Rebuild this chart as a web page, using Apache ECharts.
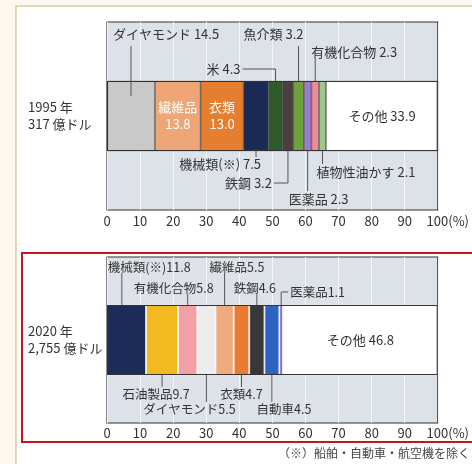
<!DOCTYPE html>
<html>
<head>
<meta charset="utf-8">
<script src="https://cdn.jsdelivr.net/npm/echarts@6/dist/echarts.min.js"></script>
<style>
html, body { margin: 0; padding: 0; background: #fff; }
#main { width: 472px; height: 464px; }
</style>
</head>
<body>
<div id="main"></div>
<script>
// data
const years = ['1995 年', '2020 年'];
const totals = ['317 億ドル', '2,755 億ドル'];

const items1995 = ['ダイヤモンド', '繊維品', '衣類', '機械類(※)', '米', '鉄鋼', '魚介類', '医薬品', '有機化合物', '植物性油かす', 'その他'];
const values1995 = [14.5, 13.8, 13.0, 7.5, 4.3, 3.2, 3.2, 2.3, 2.3, 2.1, 33.9];

const items2020 = ['機械類(※)', '石油製品', '有機化合物', 'ダイヤモンド', '繊維品', '衣類', '鉄鋼', '自動車', '医薬品', 'その他'];
const values2020 = [11.8, 9.7, 5.8, 5.5, 5.5, 4.7, 4.6, 4.5, 1.1, 46.8];

const footnote = '（※）船舶・自動車・航空機を除く';

// styles
const FONT = '"Noto Sans CJK JP", "Noto Sans", sans-serif';
const colors1995 = ['#c9c9c9', '#eea676', '#e67e30', '#1b2a55', '#2f5a2a', '#4a403e', '#6ea03c', '#a07acb', '#ee8c96', '#98c98a', '#ffffff'];
const colors2020 = ['#1c2b57', '#f4b820', '#f2a0a6', '#ececec', '#f0aa80', '#e97b32', '#383838', '#2e62c0', '#8a6cb8', '#ffffff'];
const BAR_H = 70;

// leader-line label layout (pixel offsets relative to the bar edge)
const notes1995 = [
    { i: 0, side: 'top', len: 35, inset: 15, dx: -18, dy: -12, align: 'left' },
    { i: 6, side: 'top', len: 35, dx: 5, dy: -12, align: 'right' },
    { i: 8, side: 'top', len: 22, dx: -4, dy: -7, align: 'left' },
    { i: 4, side: 'top', len: 12, elbow: -33, dx: -2, dy: 0, align: 'right' },
    { i: 3, side: 'bottom', len: 6, dx: 5, dy: 7, align: 'right' },
    { i: 9, side: 'bottom', len: 13, dx: -6, dy: 8, align: 'left' },
    { i: 5, side: 'bottom', len: 32, elbow: -14, dx: -2, dy: 0, align: 'right' },
    { i: 7, side: 'bottom', len: 40, dx: -19, dy: 8, align: 'left' }
];
const notes2020 = [
    { i: 0, side: 'top', len: 32, frac: 0.38, dx: -14, dy: -6, align: 'left' },
    { i: 4, side: 'top', len: 32, dx: -15, dy: -6, align: 'left' },
    { i: 2, side: 'top', len: 11, dx: -14, dy: -6, align: 'center' },
    { i: 6, side: 'top', len: 11, dx: -2, dy: -6, align: 'center' },
    { i: 8, side: 'top', len: 13, elbow: 7, dx: 2, dy: 0, align: 'left' },
    { i: 1, side: 'bottom', len: 12, dx: -6, dy: 7, align: 'center' },
    { i: 3, side: 'bottom', len: 27, dx: -17, dy: 7, align: 'center' },
    { i: 5, side: 'bottom', len: 12, dx: 0, dy: 7, align: 'center' },
    { i: 7, side: 'bottom', len: 27, dx: 12, dy: 7, align: 'center' }
];

const panels = [
    { items: items1995, values: values1995, colors: colors1995, notes: notes1995, sep: ' ', fs: 13,
      border: '#3c3c3c', borderW: 0.6, inside: [1, 2],
      grid: { left: 107, top: 22, width: 333, height: 188 }, tickMargin: 5 },
    { items: items2020, values: values2020, colors: colors2020, notes: notes2020, sep: '', fs: 12.5,
      border: '#ffffff', borderW: 0.8, inside: [],
      grid: { left: 107, top: 257, width: 333, height: 166 }, tickMargin: 4 }
];

function starts(vals) {
    let s = 0;
    return vals.map(v => { const a = s; s += v; return a; });
}

const grids = [], xAxes = [], yAxes = [], series = [];

panels.forEach((p, k) => {
    grids.push(Object.assign({
        show: true, backgroundColor: '#dde2e8', borderColor: '#333', borderWidth: 1.2
    }, p.grid));
    xAxes.push({
        type: 'value', gridIndex: k, min: 0, max: 100, interval: 10,
        axisLine: { show: false }, axisTick: { show: false },
        splitLine: { show: true, lineStyle: { color: '#f3f5f8', width: 1 } },
        axisLabel: {
            margin: p.tickMargin, color: '#333', fontSize: 13, fontFamily: FONT,
            formatter: v => v === 100 ? '{p|100(%)}' : String(v),
            rich: { p: { padding: [0, 0, 0, 20], fontSize: 13, fontFamily: FONT, color: '#333' } }
        }
    });
    yAxes.push({
        type: 'category', gridIndex: k, data: [years[k] + '\n' + totals[k]],
        axisLine: { show: false }, axisTick: { show: false },
        axisLabel: { align: 'left', margin: 79, color: '#333', fontSize: 13, lineHeight: 17, fontFamily: FONT }
    });

    const last = p.items.length - 1;
    p.items.forEach((name, i) => {
        let label = { show: false };
        if (p.inside.includes(i)) {
            label = { show: true, position: 'inside', color: '#fff', fontSize: 13, lineHeight: 17,
                fontFamily: FONT, formatter: name + '\n' + p.values[i].toFixed(1) };
        } else if (i === last) {
            label = { show: true, position: 'inside', color: '#333', fontSize: 13,
                fontFamily: FONT, formatter: name + ' ' + p.values[i].toFixed(1) };
        }
        series.push({
            type: 'bar', name: name, stack: 's' + k, xAxisIndex: k, yAxisIndex: k,
            barWidth: BAR_H, barGap: '-100%', data: [p.values[i]], silent: true,
            itemStyle: { color: p.colors[i], borderColor: p.border, borderWidth: p.borderW },
            label: label
        });
    });
    // outline of the whole bar
    series.push({
        type: 'bar', xAxisIndex: k, yAxisIndex: k, barWidth: BAR_H, barGap: '-100%',
        data: [100], silent: true, z: 3,
        itemStyle: { color: 'rgba(0,0,0,0)', borderColor: '#333', borderWidth: 1.1 }
    });

    // leader-line labels
    const st = starts(p.values);
    series.push({
        type: 'custom', xAxisIndex: k, yAxisIndex: k, z: 5, silent: true,
        data: p.notes.map((n, j) => [st[n.i] + p.values[n.i] * (n.frac == null ? 0.5 : n.frac), 0, j]),
        renderItem: function (params, api) {
            const n = p.notes[api.value(2)];
            const c = api.coord([api.value(0), 0]);
            const dir = n.side === 'top' ? -1 : 1;
            const edge = c[1] + dir * BAR_H / 2;
            const y0 = edge - dir * (n.inset || 0);
            const y1 = edge + dir * n.len;
            const pts = [[c[0], y0], [c[0], y1]];
            let ex = c[0];
            if (n.elbow) { ex = c[0] + n.elbow; pts.push([ex, y1]); }
            return {
                type: 'group',
                children: [
                    { type: 'polyline', shape: { points: pts }, style: { stroke: '#555', lineWidth: 1, fill: null } },
                    { type: 'text', x: ex + n.dx, y: y1 + n.dy,
                      style: { text: p.items[n.i] + p.sep + p.values[n.i].toFixed(1), fill: '#333',
                               fontSize: p.fs, fontFamily: FONT, align: n.align, verticalAlign: 'middle' } }
                ]
            };
        }
    });
});

const chart = echarts.init(document.getElementById('main'), null, { renderer: 'canvas' });
chart.setOption({
    backgroundColor: '#fcf8ef',
    animation: false,
    grid: grids,
    xAxis: xAxes,
    yAxis: yAxes,
    series: series,
    graphic: [
        { type: 'rect', z: -10, shape: { x: 16, y: 6, width: 470, height: 470 },
          style: { fill: '#fff', stroke: '#dccba4', lineWidth: 1.5 } },
        { type: 'rect', z: 10, shape: { x: 22, y: 253, width: 470, height: 189 },
          style: { fill: null, stroke: '#c8141e', lineWidth: 2 } },
        { type: 'text', z: 10, x: 278, y: 453,
          style: { text: footnote, fill: '#444', fontSize: 12, fontFamily: FONT, verticalAlign: 'middle' } }
    ]
});
</script>
</body>
</html>
